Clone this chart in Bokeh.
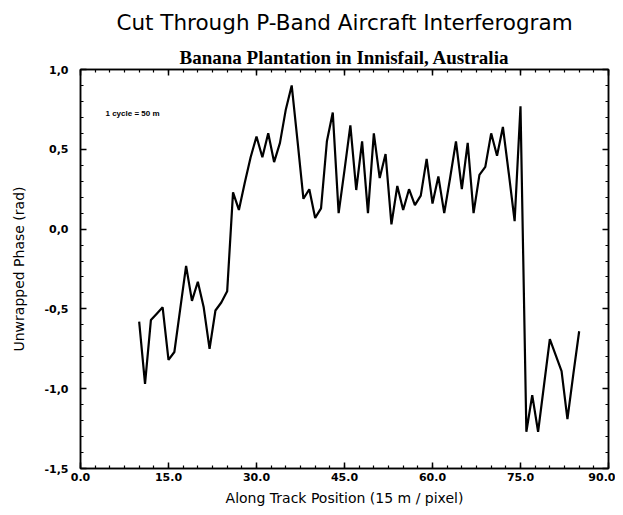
from bokeh.plotting import figure
from bokeh.models import Range1d, FixedTicker, LinearAxis, Label, Title, CustomJSTickFormatter
from bokeh.embed import file_html
from bokeh.resources import INLINE
import numpy as np

# ---- data ----
x_pos = list(range(10, 86))
phase = [-0.58, -0.97, -0.57, -0.53, -0.49, -0.82, -0.77, -0.50, -0.23, -0.45,
         -0.33, -0.49, -0.75, -0.51, -0.46, -0.39, 0.23, 0.12, 0.29, 0.45,
         0.58, 0.45, 0.60, 0.42, 0.54, 0.75, 0.90, 0.55, 0.19, 0.25,
         0.07, 0.13, 0.55, 0.73, 0.10, 0.37, 0.65, 0.245, 0.55, 0.10,
         0.60, 0.32, 0.47, 0.03, 0.27, 0.12, 0.25, 0.15, 0.21, 0.44,
         0.16, 0.33, 0.10, 0.32, 0.55, 0.25, 0.54, 0.10, 0.34, 0.39,
         0.60, 0.46, 0.64, 0.35, 0.05, 0.77, -1.27, -1.04, -1.27, -0.98,
         -0.69, -0.79, -0.89, -1.19, -0.91, -0.64]

x_ticks = [0, 15, 30, 45, 60, 75, 90]
x_tick_labels = ["0.0", "15.0", "30.0", "45.0", "60.0", "75.0", "90.0"]
y_ticks = [1.0, 0.5, 0.0, -0.5, -1.0, -1.5]
y_tick_labels = ["1,0", "0,5", "0,0", "-0,5", "-1,0", "-1,5"]

title_text = "Cut Through P-Band Aircraft Interferogram"
subtitle_text = "Banana Plantation in Innisfail, Australia"
note_text = "1 cycle = 50 m"
x_label = "Along Track Position (15 m / pixel)"
y_label = "Unwrapped Phase (rad)"

x_minor = list(np.arange(0, 90.001, 2.5))
y_minor = list(np.round(np.arange(-1.5, 1.0001, 0.1), 3))

p = figure(frame_width=528, frame_height=399, x_range=Range1d(0, 90), y_range=Range1d(-1.5, 1.0),
           output_backend="svg", toolbar_location=None,
           min_border_left=80, min_border_right=7, min_border_top=69, min_border_bottom=39)
p.background_fill_color = "white"
p.border_fill_color = "white"
p.outline_line_color = "black"
p.outline_line_width = 1.5
p.xgrid.visible = False
p.ygrid.visible = False

xa = p.below[0]
ya = p.left[0]

xt = FixedTicker(ticks=x_ticks, minor_ticks=x_minor)
yt = FixedTicker(ticks=y_ticks, minor_ticks=y_minor)
xfmt = CustomJSTickFormatter(args=dict(t=x_ticks, l=x_tick_labels),
                             code="const i = t.indexOf(tick); return i >= 0 ? l[i] : '';")
yfmt = CustomJSTickFormatter(args=dict(t=y_ticks, l=y_tick_labels),
                             code="let i = -1; for (let k = 0; k < t.length; k++) { if (Math.abs(t[k]-tick) < 1e-6) i = k; } return i >= 0 ? l[i] : '';")

def style_axis(ax, show_labels):
    ax.axis_line_color = "black"
    ax.axis_line_width = 1.5
    ax.major_tick_in = 6
    ax.major_tick_out = 0
    ax.minor_tick_in = 3
    ax.minor_tick_out = 0
    ax.major_tick_line_color = "black"
    ax.minor_tick_line_color = "black"
    ax.major_tick_line_width = 1.5
    ax.minor_tick_line_width = 1.2
    if show_labels:
        ax.major_label_text_font = "DejaVu Sans"
        ax.major_label_text_font_style = "bold"
        ax.major_label_text_font_size = "11px"
        ax.major_label_text_color = "black"
        ax.axis_label_text_font = "DejaVu Sans"
        ax.axis_label_text_font_style = "normal"
        ax.axis_label_text_font_size = "14px"
        ax.axis_label_text_color = "black"
    else:
        ax.major_label_text_font_size = "0px"
        ax.major_label_text_color = None
        ax.major_label_standoff = 0

xa.ticker = xt
xa.formatter = xfmt
xa.axis_label = x_label
style_axis(xa, True)
xa.major_label_standoff = 4
xa.axis_label_standoff = 6

ya.ticker = yt
ya.formatter = yfmt
ya.axis_label = y_label
style_axis(ya, True)
ya.major_label_standoff = 12
ya.axis_label_standoff = 14

# top axis first so it sits right on the frame
top = LinearAxis(ticker=FixedTicker(ticks=x_ticks, minor_ticks=x_minor))
style_axis(top, False)
p.add_layout(top, "above")
right = LinearAxis(ticker=FixedTicker(ticks=y_ticks, minor_ticks=y_minor))
style_axis(right, False)
p.add_layout(right, "right")

sub = Title(text=subtitle_text, align="center", text_font="Liberation Serif", text_font_style="bold",
            text_font_size="19px", text_color="black", offset=0, standoff=4)
p.add_layout(sub, "above")

p.title.text = title_text
p.title.align = "center"
p.title.text_font = "DejaVu Sans"
p.title.text_font_style = "normal"
p.title.text_font_size = "21.5px"
p.title.text_color = "black"
p.title.offset = 10
p.title.standoff = 15

p.line(x_pos, phase, line_color="black", line_width=2.2)

p.add_layout(Label(x=4.26, y=0.724, text=note_text, text_align="left", text_baseline="middle",
                   text_font="Liberation Sans", text_font_style="bold", text_font_size="8px",
                   text_color="black"))

open("out.html", "w").write(file_html(p, INLINE))
